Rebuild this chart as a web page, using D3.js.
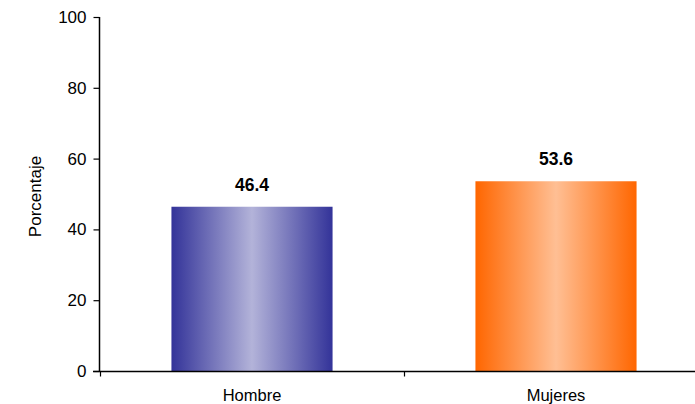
<!DOCTYPE html>
<html><head><meta charset="utf-8">
<script src="https://cdn.jsdelivr.net/npm/d3@7"></script>
<style>body{margin:0;background:#fff}svg{display:block}</style>
</head><body>
<script>
const categories = ["Hombre", "Mujeres"];
const values = [46.4, 53.6];
const yTicks = [0, 20, 40, 60, 80, 100];
const yLabel = "Porcentaje";

const W = 695, H = 404;
const FONT = "Liberation Sans, Arial, sans-serif";
const svg = d3.select("body").append("svg").attr("width", W).attr("height", H);
const x = d3.scaleBand().domain(categories).range([100, 708]).paddingInner(0).paddingOuter(0);
const y = d3.scaleLinear().domain([0, 100]).range([371, 17]);

const defs = svg.append("defs");
const grads = [
  ["#333399", "#b3b3d9"],
  ["#ff6600", "#ffbf94"]
];
grads.forEach((g, i) => {
  const lg = defs.append("linearGradient").attr("id", "g" + i).attr("x1", "0").attr("x2", "1").attr("y1", "0").attr("y2", "0");
  lg.append("stop").attr("offset", "0").attr("stop-color", g[0]);
  lg.append("stop").attr("offset", "0.5").attr("stop-color", g[1]);
  lg.append("stop").attr("offset", "1").attr("stop-color", g[0]);
});

const bw = x.bandwidth() * 0.53;
svg.selectAll("rect.bar").data(values).enter().append("rect")
  .attr("class", "bar")
  .attr("x", (d, i) => x(categories[i]) + x.bandwidth() / 2 - bw / 2)
  .attr("y", d => y(d))
  .attr("width", bw)
  .attr("height", d => y(0) - y(d))
  .attr("fill", (d, i) => `url(#g${i})`);

svg.selectAll("text.val").data(values).enter().append("text")
  .attr("class", "val")
  .attr("x", (d, i) => x(categories[i]) + x.bandwidth() / 2)
  .attr("y", d => y(d) - 16)
  .attr("text-anchor", "middle")
  .attr("font-family", FONT)
  .attr("font-weight", "bold")
  .attr("font-size", 17.5)
  .text(d => d.toFixed(1));

// Y axis
const yAxis = svg.append("g").attr("transform", "translate(99.5,0)")
  .call(d3.axisLeft(y).tickValues(yTicks).tickSize(6).tickPadding(7).tickFormat(d3.format("d")));
yAxis.select(".domain").attr("stroke", "#000").attr("stroke-width", 1.5).attr("d", `M0,${y(100)}V${y(0)}`);
yAxis.selectAll(".tick line").attr("stroke", "#000").attr("stroke-width", 1.2);
yAxis.selectAll("text").attr("font-family", FONT).attr("font-size", 17).attr("fill", "#000");

// X axis
const xAxis = svg.append("g").attr("transform", `translate(0,${y(0) + 0.5})`);
xAxis.append("line").attr("x1", 93).attr("x2", W).attr("stroke", "#000").attr("stroke-width", 1.5);
const bounds = [x(categories[0]), x(categories[1]), x(categories[1]) + x.bandwidth()];
xAxis.selectAll("line.t").data(bounds).enter().append("line")
  .attr("class", "t").attr("x1", d => d + 0.5).attr("x2", d => d + 0.5).attr("y1", 0).attr("y2", 5)
  .attr("stroke", "#000").attr("stroke-width", 1.2);
xAxis.selectAll("text").data(categories).enter().append("text")
  .attr("x", d => x(d) + x.bandwidth() / 2)
  .attr("y", 29)
  .attr("text-anchor", "middle")
  .attr("font-family", FONT)
  .attr("font-size", 16.5)
  .text(d => d);

svg.append("text")
  .attr("transform", `translate(41,196.5) rotate(-90)`)
  .attr("text-anchor", "middle")
  .attr("font-family", FONT)
  .attr("font-size", 17)
  .text(yLabel);
</script>
</body></html>
